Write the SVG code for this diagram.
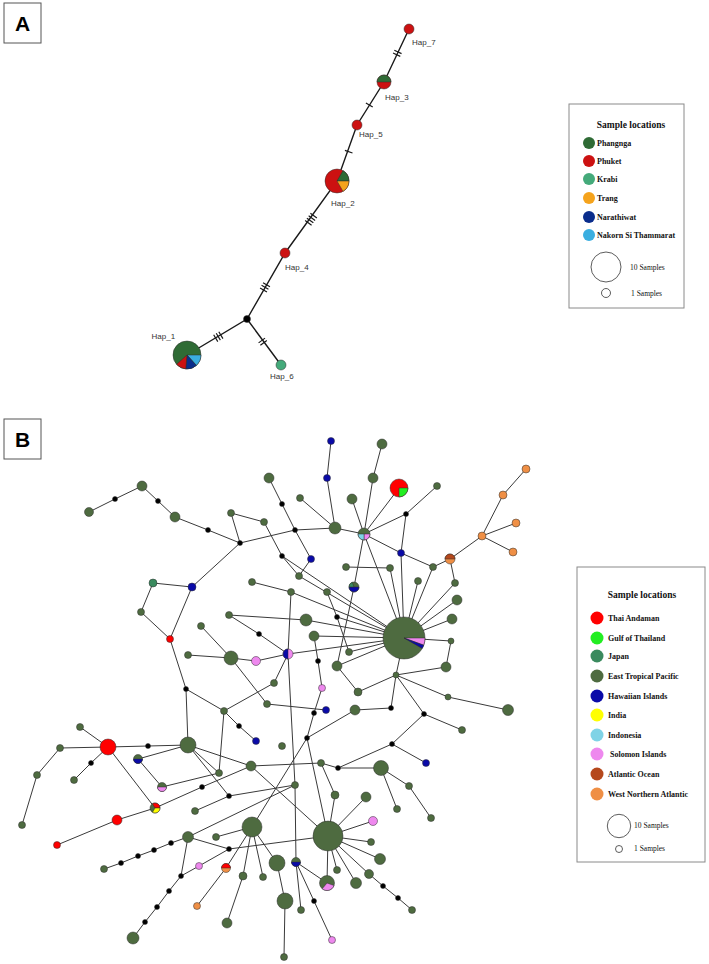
<svg xmlns="http://www.w3.org/2000/svg" width="709" height="964" viewBox="0 0 709 964">
<style>
.ea{stroke:#1a1a1a;stroke-width:1.4;fill:none}
.tk{stroke:#1a1a1a;stroke-width:1.2;fill:none}
.e{stroke:#3a3a3a;stroke-width:1;fill:none}
.n circle,.n path{stroke:#2e2e2e;stroke-width:0.5}
.g{fill:#4e6b40}.k{fill:#000}.R{fill:#ff0000}.L{fill:#22ee22}.J{fill:#3a8a5e}.B{fill:#0a0aa8}.Y{fill:#ffff00}.I{fill:#7fd3e6}.P{fill:#ee88ee}.Br{fill:#b5481c}.O{fill:#ef8f45}
.aG{fill:#2f6b35}.aR{fill:#cc1111}.aK{fill:#44aa7a}.aT{fill:#f5a31c}.aN{fill:#0a2d8c}.aS{fill:#3aaee0}
.hl{font-family:"Liberation Sans",Arial,sans-serif;font-size:8px;fill:#333}
.lt{font-family:"Liberation Serif","Times New Roman",serif;font-weight:bold;font-size:9.5px;fill:#111}
.li{font-family:"Liberation Serif","Times New Roman",serif;font-weight:bold;font-size:8px;fill:#111}
.ls{font-family:"Liberation Serif","Times New Roman",serif;font-size:7.5px;fill:#111}
.box{fill:#fff;stroke:#8a8a8a;stroke-width:1}
.pl{font-family:"Liberation Sans",Arial,sans-serif;font-weight:bold;font-size:21px;fill:#000}
</style>
<rect width="709" height="964" fill="#fff"/>

<g id="panel-A-label"><rect x="4" y="3" width="37" height="40" fill="#fff" stroke="#555"/><text class="pl" x="22.5" y="31" text-anchor="middle">A</text></g>
<g id="panel-B-label"><rect x="4" y="419" width="37" height="40" fill="#fff" stroke="#555"/><text class="pl" x="22.5" y="447" text-anchor="middle">B</text></g>

<g id="connectors-A">
<path class="ea" d="M409,29 L384,82 L357,125 L337,181 L285,253 L247,319 L187,355 M247,319 L281,365"/>
<path class="tk" d="M401.56,53.65 L394.32,50.23 M400.28,56.37 L393.04,52.95 M372.7,107.1 L365.9,102.9 M352.5,153.0 L344.9,150.4 M316.88,217.99 L310.40,213.31 M315.12,220.42 L308.64,215.74 M313.36,222.86 L306.88,218.18 M311.60,225.29 L305.12,220.61 M269.96,286.7 L263.04,282.7 M268.46,289.3 L261.54,285.3 M266.96,291.9 L260.04,287.9 M222.93,338.59 L218.81,331.73 M220.36,340.13 L216.24,333.27 M217.79,341.67 L213.67,334.81 M265.03,338.11 L258.59,342.87 M266.81,340.53 L260.37,345.29"/>
</g>

<g id="Hap_7" class="n"><circle class="aR" cx="409" cy="29" r="5"/><text class="hl" x="412" y="45" stroke="none">Hap_7</text></g>
<g id="Hap_3" class="n"><g transform="translate(384,82)"><circle class="aR" r="7"/><path class="aG" d="M-7,0 A7,7 0 0 1 7,0 Z"/></g><text class="hl" x="385" y="100">Hap_3</text></g>
<g id="Hap_5" class="n"><circle class="aR" cx="357" cy="125" r="5"/><text class="hl" x="359" y="137">Hap_5</text></g>
<g id="Hap_2" class="n"><g transform="translate(337,181)"><circle class="aR" r="12"/><path class="aG" d="M0,0 L6,-10.39 A12,12 0 0 1 12,0 Z"/><path class="aT" d="M0,0 L12,0 A12,12 0 0 1 6,10.39 Z"/></g><text class="hl" x="331" y="205.5">Hap_2</text></g>
<g id="Hap_4" class="n"><circle class="aR" cx="285" cy="253" r="5"/><text class="hl" x="285" y="269.5">Hap_4</text></g>
<g id="mv" class="n"><circle class="k" cx="247" cy="319" r="3.5"/></g>
<g id="Hap_1" class="n"><g transform="translate(187,355)"><circle class="aG" r="14"/><path class="aS" d="M0,0 L14,0 A14,14 0 0 1 9.37,10.40 Z"/><path class="aN" d="M0,0 L9.37,10.40 A14,14 0 0 1 -1.22,13.95 Z"/><path class="aR" d="M0,0 L-1.22,13.95 A14,14 0 0 1 -10.40,9.37 Z"/></g><text class="hl" x="151.5" y="339">Hap_1</text></g>
<g id="Hap_6" class="n"><circle class="aK" cx="281" cy="365" r="5"/><text class="hl" x="270" y="379">Hap_6</text></g>

<g id="legend-A">
<rect class="box" x="569" y="104" width="115" height="204"/>
<text class="lt" x="631" y="128" text-anchor="middle">Sample locations</text>
<circle class="aG" cx="589" cy="143" r="6"/><text class="li" x="597" y="146">Phangnga</text>
<circle class="aR" cx="589" cy="161" r="6"/><text class="li" x="597" y="164">Phuket</text>
<circle class="aK" cx="589" cy="179" r="6"/><text class="li" x="597" y="182">Krabi</text>
<circle class="aT" cx="589" cy="198" r="6"/><text class="li" x="597" y="201">Trang</text>
<circle class="aN" cx="589" cy="217" r="6"/><text class="li" x="597" y="220">Narathiwat</text>
<circle class="aS" cx="589" cy="235" r="6"/><text class="li" x="597" y="238">Nakorn Si Thammarat</text>
<circle cx="606" cy="267" r="15" fill="none" stroke="#333" stroke-width="0.8"/><text class="ls" x="630" y="269.5">10 Samples</text>
<circle cx="606" cy="293" r="4.5" fill="none" stroke="#333" stroke-width="0.8"/><text class="ls" x="631" y="295.5">1 Samples</text>
</g>

<g id="connectors-B">
<path class="e" d="M89,512 L115,499 L142,486 L158,501 L175,517 L208,530 L240,543 M231,513 L240,543 M240,543 L192,587 M153,583 L192,587 M153,583 L141,612 L170,639 M192,587 L170,639 L186,689 L188,745 M186,689 L224,711 L239,726 L256,741 M224,711 L219,773 M224,711 L274,683
M331,441 L327,478 L335,528 M382,444 L373,478 L364,534 M399,488 L364,534 M437,486 L406,514 L364,534 M406,514 L401,553 M364,534 L401,553 L433,567 L450,559 L482,536 L503,495 L526,469 M482,536 L516,523 M482,536 L513,552 M450,559 L455,583
M269,478 L282,504 L295,530 L311,559 L299,576 M300,498 L335,528 M240,543 L295,530 L335,528 L364,534 M231,513 L264,522 L282,556 L299,576 M352,499 L364,534 L354,587 M346,567 L390,568 M252,582 L291,592 M327,592 L337,617 L349,652
M404,638 L364,534 M404,638 L401,553 M404,638 L390,568 M404,638 L418,581 M404,638 L433,567 M404,638 L455,583 M404,638 L457,600 M404,638 L452,619 M404,638 L451,641 M404,638 L396,675 M404,638 L349,652 M404,638 L337,666 M404,638 L314,636 M404,638 L306,620 M404,638 L337,617 M404,638 L288,654 M404,638 L291,592 M404,638 L299,576 M404,638 L282,556
M451,641 L446,667 L396,675 L358,692 M396,675 L391,708 L355,710 M396,675 L424,714 L462,730 M396,675 L448,697 L508,710 M424,714 L392,744 L426,763 M392,744 L338,768 L381,768 L397,809 M381,768 L409,786 L431,818 M337,666 L358,692 M354,587 L337,666
M229,615 L259,634 L288,654 M256,661 L288,654 M231,658 L256,661 M201,626 L231,658 M188,655 L231,658 L267,704 L326,710 M274,683 L288,654 M314,636 L318,661 L322,688 L314,713 L307,738 M229,615 L306,620 M291,592 L288,654 L295,785 L296,862
M307,738 L355,710 M307,738 L252,827 M307,738 L328,836
M251,766 L321,763 L338,768 M251,766 L328,836 M321,763 L335,795 L328,836 M229,796 L295,785 M296,862 L327,883 M296,862 L301,910 M296,862 L314,901 L332,940
M328,836 L366,797 M328,836 L373,821 M328,836 L371,842 M328,836 L380,859 M328,836 L369,874 L383,886 L398,898 L412,910 M328,836 L356,883 M328,836 L337,870 M328,836 L327,883 M328,836 L229,849
M252,827 L277,863 L285,901 L284,957 M252,827 L243,876 L227,923 M252,827 L263,877 M252,827 L216,837 M252,827 L226,868 L197,906
M188,837 L229,849 M188,837 L171,843 L154,850 L138,856 L121,863 L104,869 M188,837 L181,876 M229,849 L199,866 L181,876 L169,891 L157,907 L145,922 L133,938 M188,837 L295,785
M229,796 L195,811 M188,745 L229,796
M80,727 L108,747 M60,748 L108,747 L148,746 L188,745 M108,747 L91,763 L74,780 M60,748 L37,775 L22,825 M108,747 L155,808 L117,820 L57,845 M155,808 L202,787 L251,766 M138,759 L188,745 M138,759 L162,787 L219,773 M188,745 L251,766 M188,745 L219,773"/>
</g>

<g id="nodes-B" class="n">
<g id="b1"><circle class="g" cx="89" cy="512" r="4.5"/></g>
<g id="b2"><circle class="k" cx="115" cy="499" r="2.5"/></g>
<g id="b3"><circle class="g" cx="142" cy="486" r="5"/></g>
<g id="b4"><circle class="k" cx="158" cy="501" r="2.5"/></g>
<g id="b5"><circle class="g" cx="175" cy="517" r="5"/></g>
<g id="b6"><circle class="k" cx="208" cy="530" r="2.5"/></g>
<g id="b7"><circle class="k" cx="240" cy="543" r="2.5"/></g>
<g id="b8"><circle class="g" cx="231" cy="513" r="3.5"/></g>
<g id="b9"><circle class="J" cx="153" cy="583" r="4"/></g>
<g id="b10"><circle class="B" cx="192" cy="587" r="4"/></g>
<g id="b11"><circle class="B" cx="331" cy="441" r="3.5"/></g>
<g id="b12"><circle class="B" cx="327" cy="478" r="3.5"/></g>
<g id="b13"><circle class="g" cx="382" cy="444" r="5"/></g>
<g id="b14"><circle class="g" cx="373" cy="478" r="5"/></g>
<g id="b15" transform="translate(399,488)"><circle class="R" r="9"/><path class="L" d="M0,0 L9,0 A9,9 0 0 1 0,9 Z"/></g>
<g id="b16"><circle class="g" cx="437" cy="486" r="3.5"/></g>
<g id="b17"><circle class="g" cx="269" cy="478" r="5"/></g>
<g id="b18"><circle class="k" cx="282" cy="504" r="2.5"/></g>
<g id="b19"><circle class="g" cx="300" cy="498" r="3.5"/></g>
<g id="b20"><circle class="g" cx="352" cy="499" r="5"/></g>
<g id="b21"><circle class="g" cx="264" cy="522" r="3.5"/></g>
<g id="b22"><circle class="k" cx="295" cy="530" r="2.5"/></g>
<g id="b23"><circle class="g" cx="335" cy="528" r="6"/></g>
<g id="b24" transform="translate(364,534)"><circle class="g" r="6"/><path class="P" d="M0,0 L6,0 A6,6 0 0 1 0,6 Z"/><path class="I" d="M0,0 L0,6 A6,6 0 0 1 -6,0 Z"/></g>
<g id="b25"><circle class="k" cx="406" cy="514" r="2.5"/></g>
<g id="b26"><circle class="B" cx="401" cy="553" r="3.5"/></g>
<g id="b27" transform="translate(450,559)"><circle class="O" r="5"/><path class="Br" d="M-5,0 A5,5 0 0 1 5,0 Z"/></g>
<g id="b28"><circle class="g" cx="433" cy="567" r="3.5"/></g>
<g id="b29"><circle class="g" cx="455" cy="583" r="3.5"/></g>
<g id="b30"><circle class="g" cx="457" cy="600" r="5"/></g>
<g id="b31"><circle class="g" cx="418" cy="581" r="3.5"/></g>
<g id="b32"><circle class="g" cx="390" cy="568" r="3.5"/></g>
<g id="b33"><circle class="g" cx="346" cy="567" r="3.5"/></g>
<g id="b34" transform="translate(354,587)"><circle class="g" r="5"/><path class="B" d="M0,0 L5,0 A5,5 0 0 1 -5,0 Z"/><path class="J" d="M0,0 L-5,0 A5,5 0 0 1 -1.71,-4.70 Z"/></g>
<g id="b35"><circle class="k" cx="282" cy="556" r="2.5"/></g>
<g id="b36"><circle class="B" cx="311" cy="559" r="3.5"/></g>
<g id="b37"><circle class="g" cx="299" cy="576" r="3.5"/></g>
<g id="b38"><circle class="g" cx="252" cy="582" r="3.5"/></g>
<g id="b39"><circle class="g" cx="291" cy="592" r="3.5"/></g>
<g id="b40"><circle class="g" cx="327" cy="592" r="3.5"/></g>
<g id="o1"><circle class="O" cx="482" cy="536" r="4"/></g>
<g id="o2"><circle class="O" cx="503" cy="495" r="4"/></g>
<g id="o3"><circle class="O" cx="526" cy="469" r="4"/></g>
<g id="o4"><circle class="O" cx="516" cy="523" r="4"/></g>
<g id="o5"><circle class="O" cx="513" cy="552" r="4"/></g>
<g id="b42"><circle class="g" cx="141" cy="612" r="3.5"/></g>
<g id="b43"><circle class="R" cx="170" cy="639" r="3.5"/></g>
<g id="b44"><circle class="g" cx="229" cy="615" r="3.5"/></g>
<g id="b45"><circle class="g" cx="201" cy="626" r="3.5"/></g>
<g id="b46"><circle class="g" cx="231" cy="658" r="7"/></g>
<g id="b47"><circle class="g" cx="188" cy="655" r="3.5"/></g>
<g id="b48"><circle class="k" cx="186" cy="689" r="2.5"/></g>
<g id="b49"><circle class="g" cx="224" cy="711" r="3.5"/></g>
<g id="b50"><circle class="k" cx="239" cy="726" r="2.5"/></g>
<g id="b51"><circle class="g" cx="80" cy="727" r="3.5"/></g>
<g id="b52"><circle class="R" cx="108" cy="747" r="8"/></g>
<g id="b53"><circle class="k" cx="148" cy="746" r="2.5"/></g>
<g id="b54"><circle class="g" cx="188" cy="745" r="8"/></g>
<g id="b55"><circle class="g" cx="60" cy="748" r="3.5"/></g>
<g id="b56" transform="translate(138,759)"><circle class="g" r="4.5"/><path class="B" d="M4.5,0 A4.5,4.5 0 0 1 -4.5,0 Z"/></g>
<g id="b57"><circle class="k" cx="91" cy="763" r="2.5"/></g>
<g id="hub1" transform="translate(404,638)"><circle class="g" r="21"/><path class="P" d="M0,0 L21,0 A21,21 0 0 1 19.73,7.18 Z"/><path class="B" d="M0,0 L19.73,7.18 A21,21 0 0 1 18.19,10.5 Z"/></g>
<g id="b58"><circle class="g" cx="452" cy="619" r="5"/></g>
<g id="b59"><circle class="g" cx="451" cy="641" r="3"/></g>
<g id="b60"><circle class="g" cx="446" cy="667" r="5"/></g>
<g id="b61"><circle class="g" cx="448" cy="697" r="3"/></g>
<g id="b62"><circle class="g" cx="508" cy="710" r="5.5"/></g>
<g id="b63"><circle class="g" cx="462" cy="730" r="3.5"/></g>
<g id="b64"><circle class="g" cx="396" cy="675" r="3"/></g>
<g id="b65"><circle class="k" cx="424" cy="714" r="2.5"/></g>
<g id="b66"><circle class="k" cx="391" cy="708" r="2.5"/></g>
<g id="b67"><circle class="k" cx="392" cy="744" r="2.5"/></g>
<g id="b68"><circle class="B" cx="426" cy="763" r="3.5"/></g>
<g id="b69"><circle class="g" cx="355" cy="710" r="5"/></g>
<g id="b70"><circle class="k" cx="338" cy="768" r="2.5"/></g>
<g id="b71"><circle class="g" cx="381" cy="768" r="7.5"/></g>
<g id="b72"><circle class="g" cx="337" cy="666" r="5"/></g>
<g id="b73"><circle class="g" cx="358" cy="692" r="4"/></g>
<g id="b74"><circle class="g" cx="349" cy="652" r="3.5"/></g>
<g id="b75"><circle class="k" cx="337" cy="617" r="2.5"/></g>
<g id="b76"><circle class="g" cx="306" cy="620" r="6"/></g>
<g id="b77"><circle class="g" cx="314" cy="636" r="5"/></g>
<g id="b78" transform="translate(288,654)"><circle class="P" r="5"/><path class="B" d="M0,5 A5,5 0 0 1 0,-5 Z"/></g>
<g id="b79"><circle class="P" cx="256" cy="661" r="4.5"/></g>
<g id="b80"><circle class="k" cx="259" cy="634" r="2.5"/></g>
<g id="b81"><circle class="k" cx="318" cy="661" r="2.5"/></g>
<g id="b82"><circle class="P" cx="322" cy="688" r="3.5"/></g>
<g id="b83"><circle class="g" cx="274" cy="683" r="3.5"/></g>
<g id="b84"><circle class="g" cx="267" cy="704" r="3.5"/></g>
<g id="b85"><circle class="B" cx="326" cy="710" r="3.5"/></g>
<g id="b86"><circle class="k" cx="314" cy="713" r="2.5"/></g>
<g id="b87"><circle class="k" cx="307" cy="738" r="2.5"/></g>
<g id="b89"><circle class="B" cx="256" cy="741" r="3.5"/></g>
<g id="b90"><circle class="g" cx="282" cy="746" r="3.5"/></g>
<g id="b91"><circle class="g" cx="251" cy="766" r="5"/></g>
<g id="b92"><circle class="g" cx="321" cy="763" r="3.5"/></g>
<g id="b93"><circle class="g" cx="295" cy="785" r="3.5"/></g>
<g id="b94"><circle class="g" cx="335" cy="795" r="4"/></g>
<g id="b95"><circle class="g" cx="366" cy="797" r="5"/></g>
<g id="b96"><circle class="g" cx="409" cy="786" r="3.5"/></g>
<g id="b97"><circle class="g" cx="397" cy="809" r="3.5"/></g>
<g id="b98"><circle class="g" cx="431" cy="818" r="3.5"/></g>
<g id="b99"><circle class="P" cx="373" cy="821" r="4.5"/></g>
<g id="hub2"><circle class="g" cx="328" cy="836" r="15"/></g>
<g id="b100"><circle class="g" cx="252" cy="827" r="10"/></g>
<g id="b101"><circle class="g" cx="371" cy="842" r="3.5"/></g>
<g id="b102"><circle class="g" cx="380" cy="859" r="5.5"/></g>
<g id="b103"><circle class="g" cx="277" cy="863" r="8"/></g>
<g id="b104" transform="translate(296,862)"><circle class="g" r="4.5"/><path class="B" d="M4.5,0 A4.5,4.5 0 0 1 -4.5,0 Z"/></g>
<g id="b105"><circle class="g" cx="337" cy="870" r="3.5"/></g>
<g id="b106"><circle class="g" cx="369" cy="874" r="4.5"/></g>
<g id="b107" transform="translate(327,883)"><circle class="g" r="7.5"/><path class="P" d="M0,0 L7.05,2.57 A7.5,7.5 0 0 1 -4.82,5.75 Z"/></g>
<g id="b108"><circle class="g" cx="356" cy="883" r="5.5"/></g>
<g id="b109"><circle class="k" cx="383" cy="886" r="2.5"/></g>
<g id="b110"><circle class="k" cx="398" cy="898" r="2.5"/></g>
<g id="b111"><circle class="g" cx="412" cy="910" r="3.5"/></g>
<g id="b112"><circle class="g" cx="243" cy="876" r="4"/></g>
<g id="b113"><circle class="g" cx="263" cy="877" r="3.5"/></g>
<g id="b114"><circle class="g" cx="285" cy="901" r="8"/></g>
<g id="b115"><circle class="g" cx="301" cy="910" r="3.5"/></g>
<g id="b116"><circle class="k" cx="314" cy="901" r="2.5"/></g>
<g id="b117"><circle class="P" cx="332" cy="940" r="3.5"/></g>
<g id="b118"><circle class="g" cx="284" cy="957" r="3.5"/></g>
<g id="b119"><circle class="g" cx="219" cy="773" r="3.5"/></g>
<g id="b120"><circle class="g" cx="74" cy="780" r="3.5"/></g>
<g id="b121" transform="translate(155,808)"><circle class="g" r="5"/><path class="R" d="M0,0 L-2.5,-4.33 A5,5 0 0 1 5,0 Z"/><path class="Y" d="M0,0 L5,0 A5,5 0 0 1 -2.5,4.33 Z"/></g>
<g id="b122"><circle class="g" cx="37" cy="775" r="3.5"/></g>
<g id="b123"><circle class="g" cx="22" cy="825" r="3.5"/></g>
<g id="b124" transform="translate(162,787)"><circle class="g" r="4.5"/><path class="P" d="M4.5,0 A4.5,4.5 0 0 1 -4.5,0 Z"/></g>
<g id="b125"><circle class="R" cx="117" cy="820" r="5"/></g>
<g id="b126"><circle class="R" cx="57" cy="845" r="3.5"/></g>
<g id="b127"><circle class="k" cx="202" cy="787" r="2.5"/></g>
<g id="b128"><circle class="k" cx="229" cy="796" r="2.5"/></g>
<g id="b129"><circle class="g" cx="195" cy="811" r="3.5"/></g>
<g id="b130"><circle class="g" cx="188" cy="837" r="5.5"/></g>
<g id="b131"><circle class="g" cx="216" cy="837" r="3.5"/></g>
<g id="b132"><circle class="k" cx="229" cy="849" r="2.5"/></g>
<g id="b133"><circle class="k" cx="171" cy="843" r="2.5"/></g>
<g id="b134"><circle class="k" cx="154" cy="850" r="2.5"/></g>
<g id="b135"><circle class="k" cx="138" cy="856" r="2.5"/></g>
<g id="b136"><circle class="k" cx="121" cy="863" r="2.5"/></g>
<g id="b137"><circle class="g" cx="104" cy="869" r="3.5"/></g>
<g id="b138"><circle class="k" cx="181" cy="876" r="2.5"/></g>
<g id="b139"><circle class="P" cx="199" cy="866" r="3.5"/></g>
<g id="b140"><circle class="k" cx="169" cy="891" r="2.5"/></g>
<g id="b141"><circle class="k" cx="157" cy="907" r="2.5"/></g>
<g id="b142"><circle class="k" cx="145" cy="922" r="2.5"/></g>
<g id="b143"><circle class="g" cx="133" cy="938" r="6"/></g>
<g id="b144" transform="translate(226,868)"><circle class="O" r="4.5"/><path class="R" d="M-4.5,0 A4.5,4.5 0 0 1 4.5,0 Z"/></g>
<g id="b145"><circle class="O" cx="197" cy="906" r="3.5"/></g>
<g id="b146"><circle class="g" cx="227" cy="923" r="5"/></g>
</g>

<g id="legend-B">
<rect class="box" x="577" y="567" width="128" height="295"/>
<text class="lt" x="642" y="598" text-anchor="middle">Sample locations</text>
<circle class="R" cx="597" cy="618" r="6.5"/><text class="li" x="608" y="621">Thai Andaman</text>
<circle class="L" cx="597" cy="638" r="6.5"/><text class="li" x="608" y="641">Gulf of Thailand</text>
<circle class="J" cx="597" cy="656" r="6.5"/><text class="li" x="608" y="659">Japan</text>
<circle class="g" cx="597" cy="676" r="6.5"/><text class="li" x="608" y="679">East Tropical Pacific</text>
<circle class="B" cx="597" cy="696" r="6.5"/><text class="li" x="608" y="699">Hawaiian Islands</text>
<circle class="Y" cx="597" cy="715" r="6.5"/><text class="li" x="608" y="718">India</text>
<circle class="I" cx="597" cy="735" r="6.5"/><text class="li" x="608" y="738">Indonesia</text>
<circle class="P" cx="597" cy="754" r="6.5"/><text class="li" x="610" y="757">Solomon Islands</text>
<circle class="Br" cx="597" cy="774" r="6.5"/><text class="li" x="608" y="777">Atlantic Ocean</text>
<circle class="O" cx="597" cy="794" r="6.5"/><text class="li" x="608" y="797">West Northern Atlantic</text>
<circle cx="619" cy="826" r="11.7" fill="none" stroke="#333" stroke-width="0.8"/><text class="ls" x="634" y="828">10 Samples</text>
<circle cx="619" cy="849" r="3.5" fill="none" stroke="#333" stroke-width="0.8"/><text class="ls" x="634" y="851">1 Samples</text>
</g>
</svg>
